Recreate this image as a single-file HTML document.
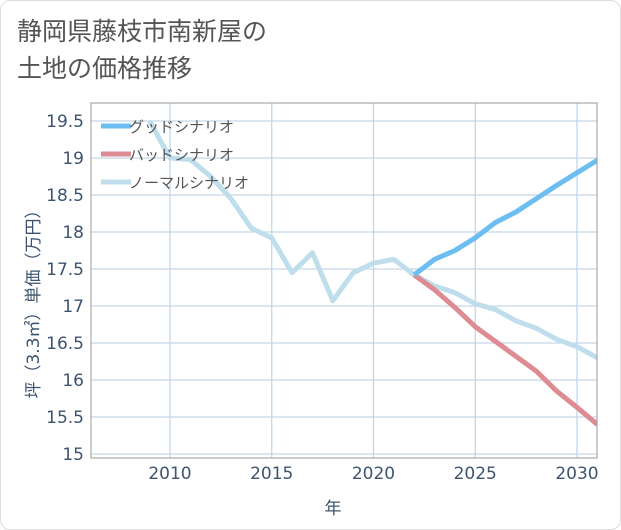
<!DOCTYPE html>
<html><head><meta charset="utf-8"><style>
body{margin:0;background:#fff;font-family:"DejaVu Sans","Noto Sans CJK JP",sans-serif;}
.card{position:absolute;left:0;top:0;width:619px;height:528px;border:1px solid #ddd;border-radius:10px;background:#fff;}
.title{position:absolute;left:17px;top:14px;font-size:25px;line-height:37px;color:#555;font-family:"Liberation Sans","Noto Sans CJK JP",sans-serif;}
</style></head><body>
<div class="card"></div>
<div class="title">静岡県藤枝市南新屋の<br>土地の価格推移</div>
<svg width="621" height="530" style="position:absolute;left:0;top:0">
<g id="grid"></g><g id="lines"></g><g id="axes"></g><g id="legend"></g>
</svg>
<script>
const normalYears=[2009,2010,2011,2012,2013,2014,2015,2016,2017,2018,2019,2020,2021,2022,2023,2024,2025,2026,2027,2028,2029,2030,2031];
const normalVals=[19.5,19.0,18.98,18.75,18.45,18.05,17.92,17.45,17.72,17.07,17.45,17.58,17.63,17.42,17.27,17.18,17.03,16.95,16.8,16.7,16.55,16.45,16.3];
const scenYears=[2022,2023,2024,2025,2026,2027,2028,2029,2030,2031];
const goodVals=[17.42,17.63,17.75,17.92,18.13,18.27,18.45,18.63,18.8,18.97];
const badVals=[17.42,17.22,16.98,16.72,16.52,16.32,16.12,15.85,15.63,15.4];
const yTicks=[15,15.5,16,16.5,17,17.5,18,18.5,19,19.5];
const yTickLabels=["15","15.5","16","16.5","17","17.5","18","18.5","19","19.5"];
const xTicks=[2010,2015,2020,2025,2030];
const legendLabels=["グッドシナリオ","バッドシナリオ","ノーマルシナリオ"];
const L=91,R=597,T=103,B=458;
const x=v=>170+(v-2010)*20.35;
const y=v=>454-(v-15)*74;
const NS="http://www.w3.org/2000/svg";
function mk(p,tag,at){const e=document.createElementNS(NS,tag);for(const k in at)e.setAttribute(k,at[k]);document.getElementById(p).appendChild(e);return e;}
yTicks.forEach((t,i)=>{
 const l=mk('grid','line',{x1:L,x2:R,y1:y(t),y2:y(t),stroke:'#c6d8e8','stroke-width':1.2});
 
 
 const tx=mk('axes','text',{x:84,y:y(t)+6,'text-anchor':'end','font-size':17,fill:'#3d5470'});
 tx.textContent=yTickLabels[i];
 
 
});
xTicks.forEach(t=>{
 const l=mk('grid','line',{x1:x(t),x2:x(t),y1:T,y2:B,stroke:'#b9d6e8','stroke-width':1.2});
 
 
 const tx=mk('axes','text',{x:x(t),y:479,'text-anchor':'middle','font-size':17,fill:'#3d5470'});
 tx.textContent=t;
 
 
});
const fr=mk('axes','rect',{x:L,y:T,width:R-L,height:B-T,fill:'none',stroke:'#999','stroke-width':1});


const xt=mk('axes','text',{x:333,y:514,'text-anchor':'middle','font-size':17,fill:'#3d5470'});
xt.textContent='年';


const yt=mk('axes','text',{x:0,y:0,'text-anchor':'middle','font-size':17,fill:'#3d5470',transform:'translate(39,300) rotate(-90)'});
yt.textContent='坪（3.3㎡）単価（万円）';


function path(xs,vs){return xs.map((v,i)=>(i?'L':'M')+x(v)+','+y(vs[i])).join(' ');}
const series=[[normalYears,normalVals,'#bfdeec','normal-line'],[scenYears,badVals,'#de8c93','bad-line'],[scenYears,goodVals,'#6cbdf0','good-line']];
const cp=mk('lines','clipPath',{id:'cp'});
const cr=document.createElementNS(NS,'rect');cr.setAttribute('x',L);cr.setAttribute('y',T);cr.setAttribute('width',R-L);cr.setAttribute('height',B-T);cp.appendChild(cr);
series.forEach(s=>{
 const p=mk('lines','path',{d:path(s[0],s[1]),fill:'none',stroke:s[2],'stroke-width':5,'stroke-linejoin':'round','clip-path':'url(#cp)'});
 
 
});
const lc=['#6cbdf0','#de8c93','#bfdeec'];
legendLabels.forEach((lab,i)=>{
 const yy=126+i*28;
 const l=mk('legend','line',{x1:101,x2:131,y1:yy,y2:yy,stroke:lc[i],'stroke-width':5});
 
 
 const t=mk('legend','text',{x:129,y:yy+6,'font-size':15,fill:'#555'});
 t.textContent=lab;
 
 
});
</script>
</body></html>
